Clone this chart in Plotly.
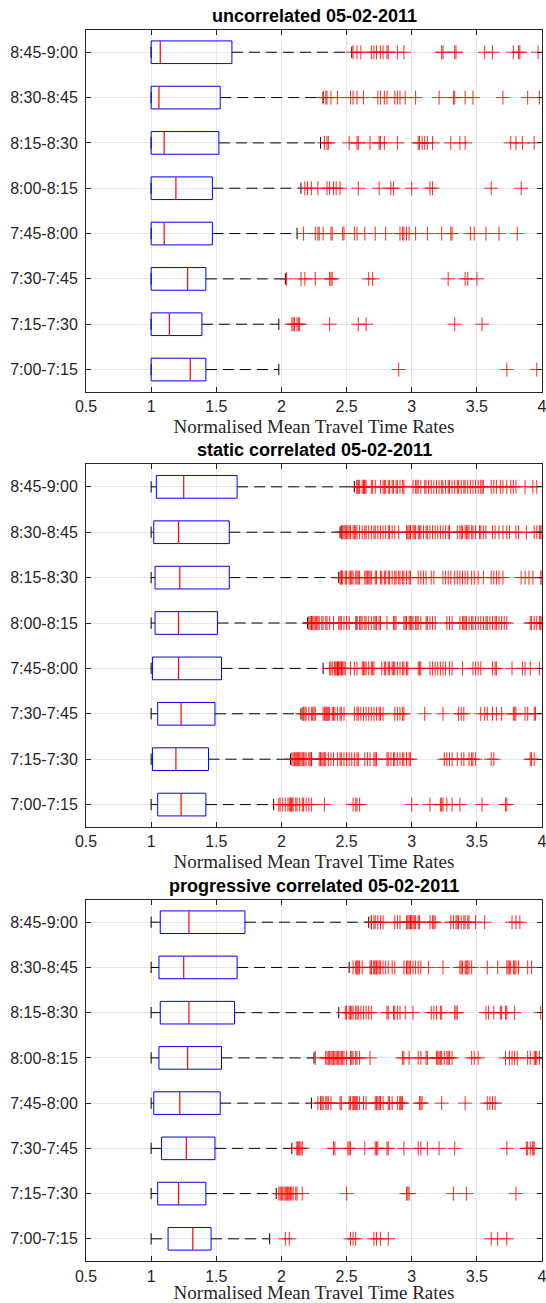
import plotly.graph_objects as go

# ---------------- data ----------------
periods = ["7:00-7:15", "7:15-7:30", "7:30-7:45", "7:45-8:00",
           "8:00-8:15", "8:15-8:30", "8:30-8:45", "8:45-9:00"]
panel_titles = ["uncorrelated 05-02-2011",
                "static correlated 05-02-2011",
                "progressive correlated 05-02-2011"]
x_ticks = [0.5, 1, 1.5, 2, 2.5, 3, 3.5, 4]
x_tick_text = ["0.5", "1", "1.5", "2", "2.5", "3", "3.5", "4"]
x_label = "Normalised Mean Travel Time Rates"

# uncorrelated
unc_q1 = [1.0, 1.0, 1.0, 1.0, 1.0, 1.0, 1.0, 1.0]
unc_median = [1.30, 1.14, 1.28, 1.10, 1.19, 1.10, 1.06, 1.07]
unc_q3 = [1.42, 1.39, 1.42, 1.47, 1.47, 1.52, 1.53, 1.62]
unc_lower = [1.0, 1.0, 1.0, 1.0, 1.0, 1.0, 1.0, 1.0]
unc_upper = [1.98, 1.98, 2.03, 2.12, 2.15, 2.30, 2.32, 2.54]
unc_outliers = [
    [2.90, 3.73, 3.96],
    [2.08, 2.09, 2.10, 2.12, 2.13, 2.14, 2.37, 2.59, 2.65, 3.33, 3.54],
    [2.04, 2.15, 2.18, 2.26, 2.37, 2.38, 2.39, 2.67, 2.70, 3.28, 3.41, 3.43, 3.50],
    [2.17, 2.26, 2.28, 2.29, 2.32, 2.38, 2.39, 2.47, 2.48, 2.56, 2.58, 2.64, 2.72,
     2.80, 2.91, 2.93, 2.94, 2.96, 2.98, 3.03, 3.12, 3.23, 3.30, 3.31, 3.45, 3.48,
     3.57, 3.67, 3.81],
    [2.18, 2.20, 2.23, 2.28, 2.35, 2.37, 2.40, 2.42, 2.45, 2.59, 2.75, 2.84, 2.86,
     3.00, 3.14, 3.16, 3.61, 3.84],
    [2.33, 2.35, 2.36, 2.52, 2.58, 2.59, 2.68, 2.75, 2.76, 2.79, 2.89, 3.05, 3.06,
     3.08, 3.10, 3.12, 3.16, 3.30, 3.37, 3.41, 3.76, 3.80, 3.85, 3.94],
    [2.32, 2.34, 2.35, 2.38, 2.43, 2.53, 2.55, 2.58, 2.63, 2.74, 2.76, 2.79, 2.81,
     2.87, 2.89, 2.91, 2.95, 3.03, 3.21, 3.32, 3.33, 3.41, 3.47, 3.70, 3.89, 3.98],
    [2.55, 2.58, 2.61, 2.69, 2.71, 2.73, 2.76, 2.78, 2.81, 2.82, 2.89, 2.94, 3.23,
     3.24, 3.33, 3.34, 3.56, 3.62, 3.78, 3.82, 3.83, 3.97],
]

# static correlated
sta_q1 = [1.05, 1.01, 1.05, 1.01, 1.03, 1.03, 1.02, 1.04]
sta_median = [1.23, 1.19, 1.23, 1.21, 1.21, 1.22, 1.21, 1.25]
sta_q3 = [1.42, 1.44, 1.49, 1.54, 1.51, 1.60, 1.60, 1.66]
sta_lower = [1.0, 1.0, 1.0, 1.0, 1.0, 1.0, 1.0, 1.0]
sta_upper = [1.94, 2.07, 2.15, 2.32, 2.20, 2.44, 2.45, 2.56]
sta_outliers = [
    [1.98, 1.99, 2.01, 2.03, 2.05, 2.06, 2.07, 2.08, 2.08, 2.09, 2.11, 2.12, 2.14,
     2.16, 2.17, 2.19, 2.21, 2.23, 2.33, 2.55, 2.57, 2.58, 2.60, 3.00, 3.14, 3.22,
     3.23, 3.24, 3.27, 3.31, 3.37, 3.54, 3.72, 3.73],
    [2.08, 2.09, 2.10, 2.11, 2.12, 2.12, 2.13, 2.14, 2.15, 2.16, 2.17, 2.18, 2.19,
     2.21, 2.22, 2.23, 2.23, 2.29, 2.30, 2.31, 2.32, 2.33, 2.34, 2.36, 2.38, 2.40,
     2.43, 2.45, 2.46, 2.48, 2.50, 2.52, 2.54, 2.56, 2.58, 2.59, 2.64, 2.66, 2.68,
     2.71, 2.72, 2.73, 2.81, 2.82, 2.84, 2.86, 2.87, 2.89, 2.91, 2.93, 2.94, 2.96,
     2.98, 2.99, 3.25, 3.27, 3.29, 3.31, 3.35, 3.38, 3.40, 3.44, 3.46, 3.47, 3.49,
     3.61, 3.63, 3.91, 3.92, 3.94],
    [2.16, 2.17, 2.18, 2.19, 2.21, 2.23, 2.24, 2.25, 2.26, 2.32, 2.33, 2.34, 2.35,
     2.35, 2.36, 2.37, 2.39, 2.40, 2.41, 2.43, 2.45, 2.46, 2.48, 2.56, 2.58, 2.59,
     2.61, 2.63, 2.65, 2.67, 2.69, 2.71, 2.73, 2.75, 2.76, 2.78, 2.87, 2.89, 2.91,
     2.93, 2.94, 3.10, 3.24, 3.36, 3.38, 3.40, 3.53, 3.56, 3.58, 3.62, 3.65, 3.69,
     3.78, 3.79, 3.80, 3.87, 3.89, 3.94, 3.95],
    [2.37, 2.38, 2.39, 2.41, 2.41, 2.42, 2.43, 2.43, 2.44, 2.44, 2.45, 2.46, 2.46,
     2.47, 2.48, 2.49, 2.53, 2.56, 2.58, 2.62, 2.63, 2.64, 2.65, 2.67, 2.69, 2.70,
     2.71, 2.77, 2.79, 2.80, 2.82, 2.83, 2.85, 2.86, 2.87, 2.89, 2.91, 2.93, 2.94,
     2.96, 2.97, 3.05, 3.06, 3.07, 3.14, 3.16, 3.18, 3.20, 3.22, 3.24, 3.26, 3.29,
     3.31, 3.39, 3.47, 3.49, 3.51, 3.53, 3.62, 3.64, 3.65, 3.77, 3.85, 3.87, 3.91,
     3.98],
    [2.21, 2.22, 2.23, 2.23, 2.24, 2.25, 2.26, 2.27, 2.28, 2.29, 2.31, 2.32, 2.34,
     2.35, 2.37, 2.40, 2.44, 2.45, 2.46, 2.48, 2.50, 2.52, 2.57, 2.58, 2.58, 2.60,
     2.61, 2.62, 2.64, 2.65, 2.67, 2.69, 2.71, 2.72, 2.73, 2.75, 2.76, 2.81, 2.86,
     2.87, 2.88, 2.94, 2.95, 2.96, 2.98, 2.99, 3.00, 3.01, 3.03, 3.04, 3.05, 3.07,
     3.11, 3.12, 3.14, 3.16, 3.18, 3.27, 3.29, 3.31, 3.37, 3.39, 3.40, 3.41, 3.42,
     3.44, 3.46, 3.47, 3.49, 3.51, 3.53, 3.55, 3.57, 3.58, 3.60, 3.62, 3.64, 3.65,
     3.67, 3.69, 3.71, 3.73, 3.91, 3.92, 3.94, 3.96, 3.98, 3.99, 4.0],
    [2.45, 2.46, 2.46, 2.47, 2.49, 2.50, 2.52, 2.53, 2.54, 2.55, 2.57, 2.58, 2.59,
     2.60, 2.64, 2.65, 2.66, 2.67, 2.68, 2.69, 2.72, 2.73, 2.76, 2.77, 2.79, 2.80,
     2.82, 2.83, 2.85, 2.87, 2.88, 2.90, 2.91, 2.93, 2.94, 2.96, 2.98, 2.99, 3.05,
     3.07, 3.09, 3.11, 3.15, 3.17, 3.24, 3.26, 3.28, 3.30, 3.33, 3.35, 3.37, 3.39,
     3.41, 3.43, 3.46, 3.48, 3.51, 3.55, 3.61, 3.63, 3.65, 3.67, 3.70, 3.84, 3.87,
     3.90, 3.93, 3.99, 4.0],
    [2.46, 2.46, 2.47, 2.48, 2.49, 2.50, 2.51, 2.52, 2.53, 2.55, 2.56, 2.57, 2.58,
     2.60, 2.62, 2.64, 2.65, 2.67, 2.69, 2.71, 2.72, 2.74, 2.76, 2.78, 2.80, 2.82,
     2.83, 2.85, 2.87, 2.90, 2.96, 2.97, 2.98, 2.99, 2.99, 3.01, 3.02, 3.03, 3.05,
     3.06, 3.07, 3.09, 3.11, 3.12, 3.14, 3.16, 3.18, 3.20, 3.22, 3.24, 3.26, 3.28,
     3.29, 3.35, 3.37, 3.38, 3.39, 3.41, 3.42, 3.43, 3.44, 3.46, 3.47, 3.49, 3.52,
     3.53, 3.55, 3.57, 3.62, 3.64, 3.67, 3.70, 3.73, 3.75, 3.80, 3.82, 3.88, 3.94,
     3.96, 3.98, 3.99, 4.0],
    [2.58, 2.58, 2.59, 2.60, 2.62, 2.63, 2.64, 2.64, 2.65, 2.69, 2.70, 2.72, 2.76,
     2.78, 2.79, 2.80, 2.82, 2.83, 2.85, 2.86, 2.88, 2.89, 2.91, 2.93, 2.94, 3.01,
     3.03, 3.04, 3.05, 3.07, 3.10, 3.11, 3.13, 3.15, 3.17, 3.19, 3.21, 3.23, 3.24,
     3.26, 3.28, 3.29, 3.31, 3.33, 3.35, 3.36, 3.38, 3.40, 3.41, 3.43, 3.45, 3.47,
     3.49, 3.51, 3.53, 3.54, 3.55, 3.61, 3.63, 3.65, 3.68, 3.70, 3.73, 3.76, 3.78,
     3.80, 3.87, 3.93, 3.96],
]

# progressive correlated
pro_q1 = [1.13, 1.05, 1.08, 1.02, 1.06, 1.07, 1.06, 1.07]
pro_median = [1.32, 1.21, 1.27, 1.22, 1.28, 1.29, 1.25, 1.29]
pro_q3 = [1.46, 1.42, 1.49, 1.53, 1.54, 1.64, 1.66, 1.72]
pro_lower = [1.0, 1.0, 1.0, 1.0, 1.0, 1.0, 1.0, 1.0]
pro_upper = [1.91, 1.96, 2.08, 2.23, 2.25, 2.44, 2.52, 2.67]
pro_outliers = [
    [2.03, 2.06, 2.53, 2.55, 2.57, 2.71, 2.73, 2.76, 2.82, 3.61, 3.66, 3.73],
    [1.98, 1.99, 2.00, 2.01, 2.02, 2.03, 2.04, 2.05, 2.05, 2.06, 2.07, 2.08, 2.09,
     2.11, 2.12, 2.16, 2.50, 2.96, 2.97, 2.98, 3.32, 3.42, 3.80],
    [2.12, 2.12, 2.13, 2.14, 2.15, 2.16, 2.40, 2.41, 2.51, 2.52, 2.53, 2.64, 2.72,
     2.73, 2.74, 2.81, 2.82, 2.94, 3.05, 3.07, 3.12, 3.21, 3.33, 3.73, 3.88, 3.89,
     3.91, 3.93, 3.93, 3.94],
    [2.28, 2.30, 2.31, 2.32, 2.34, 2.35, 2.36, 2.38, 2.45, 2.46, 2.52, 2.53, 2.55,
     2.55, 2.56, 2.57, 2.58, 2.58, 2.60, 2.63, 2.65, 2.72, 2.73, 2.74, 2.75, 2.76,
     2.76, 2.78, 2.82, 2.83, 2.85, 2.89, 2.91, 2.91, 2.92, 2.93, 3.06, 3.07, 3.08,
     3.23, 3.41, 3.58, 3.60, 3.62, 3.64],
    [2.26, 2.34, 2.35, 2.36, 2.37, 2.38, 2.39, 2.40, 2.41, 2.42, 2.43, 2.44, 2.45,
     2.46, 2.47, 2.48, 2.50, 2.53, 2.54, 2.55, 2.57, 2.58, 2.60, 2.68, 2.93, 2.94,
     2.98, 3.05, 3.07, 3.11, 3.12, 3.19, 3.20, 3.21, 3.22, 3.23, 3.25, 3.27, 3.28,
     3.29, 3.31, 3.46, 3.48, 3.51, 3.72, 3.75, 3.77, 3.79, 3.81, 3.89, 3.91, 3.94,
     3.95, 3.96, 3.98],
    [2.49, 2.50, 2.52, 2.53, 2.54, 2.55, 2.57, 2.58, 2.59, 2.61, 2.63, 2.65, 2.67,
     2.69, 2.81, 2.82, 2.86, 2.87, 2.89, 2.91, 2.95, 3.01, 3.15, 3.17, 3.19, 3.22,
     3.23, 3.33, 3.34, 3.35, 3.57, 3.59, 3.63, 3.68, 3.69, 3.72, 3.73, 3.79, 3.99],
    [2.55, 2.57, 2.58, 2.58, 2.59, 2.60, 2.62, 2.68, 2.69, 2.69, 2.71, 2.71, 2.72,
     2.73, 2.74, 2.75, 2.76, 2.78, 2.80, 2.82, 2.85, 2.87, 2.94, 2.96, 2.97, 2.98,
     2.99, 3.01, 3.03, 3.05, 3.07, 3.13, 3.24, 3.37, 3.38, 3.39, 3.41, 3.42, 3.43,
     3.44, 3.46, 3.58, 3.66, 3.73, 3.74, 3.75, 3.76, 3.78, 3.79, 3.80, 3.82, 3.89,
     3.92],
    [2.69, 2.69, 2.71, 2.72, 2.74, 2.76, 2.78, 2.87, 2.89, 2.91, 2.96, 2.97, 2.98,
     2.99, 2.99, 3.00, 3.01, 3.02, 3.03, 3.05, 3.06, 3.14, 3.16, 3.17, 3.18, 3.30,
     3.32, 3.34, 3.35, 3.36, 3.38, 3.40, 3.41, 3.43, 3.44, 3.49, 3.56, 3.77, 3.80,
     3.83],
]

panels = [
    (unc_q1, unc_median, unc_q3, unc_lower, unc_upper, unc_outliers),
    (sta_q1, sta_median, sta_q3, sta_lower, sta_upper, sta_outliers),
    (pro_q1, pro_median, pro_q3, pro_lower, pro_upper, pro_outliers),
]

# ---------------- style ----------------
BOX_HALF = 0.25
CAP_HALF = 0.125
AX_COLOR = "#262626"
GRID_COLOR = "#e6e6e6"
TICK_FONT = dict(family="Liberation Sans, Arial, sans-serif", size=16, color=AX_COLOR)
XLAB_FONT = dict(family="Liberation Serif, Times New Roman, serif", size=19, color=AX_COLOR)
TITLE_FONT = dict(family="Liberation Sans, Arial, sans-serif", size=18, color="#000000")
y_domains = [[0.6990, 0.9773], [0.3651, 0.6438], [0.0319, 0.3096]]

fig = go.Figure()

for k, (q1, med, q3, lo, up, outl) in enumerate(panels):
    xa = "x" if k == 0 else f"x{k + 1}"
    ya = "y" if k == 0 else f"y{k + 1}"
    wx, wy, cx, cy, bx, by, mx, my, ox, oy = [], [], [], [], [], [], [], [], [], []
    for i in range(len(periods)):
        yc = i + 1
        wx += [q3[i], up[i], None, lo[i], q1[i], None]
        wy += [yc, yc, None, yc, yc, None]
        cx += [up[i], up[i], None, lo[i], lo[i], None]
        cy += [yc - CAP_HALF, yc + CAP_HALF, None, yc - CAP_HALF, yc + CAP_HALF, None]
        bx += [q1[i], q3[i], q3[i], q1[i], q1[i], None]
        by += [yc - BOX_HALF, yc - BOX_HALF, yc + BOX_HALF, yc + BOX_HALF, yc - BOX_HALF, None]
        mx += [med[i], med[i], None]
        my += [yc - BOX_HALF, yc + BOX_HALF, None]
        ox += outl[i]
        oy += [yc] * len(outl[i])

    fig.add_trace(go.Scatter(x=wx, y=wy, mode="lines", xaxis=xa, yaxis=ya,
                             line=dict(color="#000000", width=1, dash="11px,6px"),
                             hoverinfo="skip", showlegend=False))
    fig.add_trace(go.Scatter(x=cx, y=cy, mode="lines", xaxis=xa, yaxis=ya,
                             line=dict(color="#000000", width=1),
                             hoverinfo="skip", showlegend=False))
    fig.add_trace(go.Scatter(x=ox, y=oy, mode="markers", xaxis=xa, yaxis=ya,
                             marker=dict(symbol="cross-thin", size=10,
                                         line=dict(color="rgba(255,0,0,0.85)", width=1)),
                             showlegend=False))
    fig.add_trace(go.Scatter(x=bx, y=by, mode="lines", xaxis=xa, yaxis=ya,
                             line=dict(color="#0000ff", width=1),
                             hoverinfo="skip", showlegend=False))
    fig.add_trace(go.Scatter(x=mx, y=my, mode="lines", xaxis=xa, yaxis=ya,
                             line=dict(color="#ff0000", width=1.2),
                             hoverinfo="skip", showlegend=False))

    xname = "xaxis" if k == 0 else f"xaxis{k + 1}"
    yname = "yaxis" if k == 0 else f"yaxis{k + 1}"
    fig.layout[xname] = dict(
        domain=[0, 1], anchor=ya, range=[0.5, 4], tickvals=x_ticks, ticktext=x_tick_text,
        ticks="inside", ticklen=5, tickcolor=AX_COLOR, tickwidth=1,
        showline=True, linecolor=AX_COLOR, linewidth=1, mirror="ticks",
        showgrid=True, gridcolor=GRID_COLOR, gridwidth=1, zeroline=False,
        tickfont=TICK_FONT, automargin=False, ticklabeloverflow="allow",
        title=dict(text=x_label, font=XLAB_FONT, standoff=5),
    )
    fig.layout[yname] = dict(
        domain=y_domains[k], anchor=xa, range=[0.5, 8.5],
        tickvals=list(range(1, len(periods) + 1)), ticktext=periods,
        ticks="inside", ticklen=5, tickcolor=AX_COLOR, tickwidth=1,
        showline=True, linecolor=AX_COLOR, linewidth=1, mirror="ticks",
        showgrid=True, gridcolor=GRID_COLOR, gridwidth=1, zeroline=False,
        tickfont=TICK_FONT, automargin=False, ticklabelstandoff=4,
    )
    fig.add_annotation(text=f"<b>{panel_titles[k]}</b>", xref="paper", yref="paper",
                       x=0.5, y=y_domains[k][1], xanchor="center", yanchor="bottom",
                       yshift=2, showarrow=False, font=TITLE_FONT)

fig.update_layout(
    width=546, height=1303,
    margin=dict(l=86, r=4, t=0, b=0),
    paper_bgcolor="white", plot_bgcolor="white",
    showlegend=False,
)

fig.write_html("out.html")
